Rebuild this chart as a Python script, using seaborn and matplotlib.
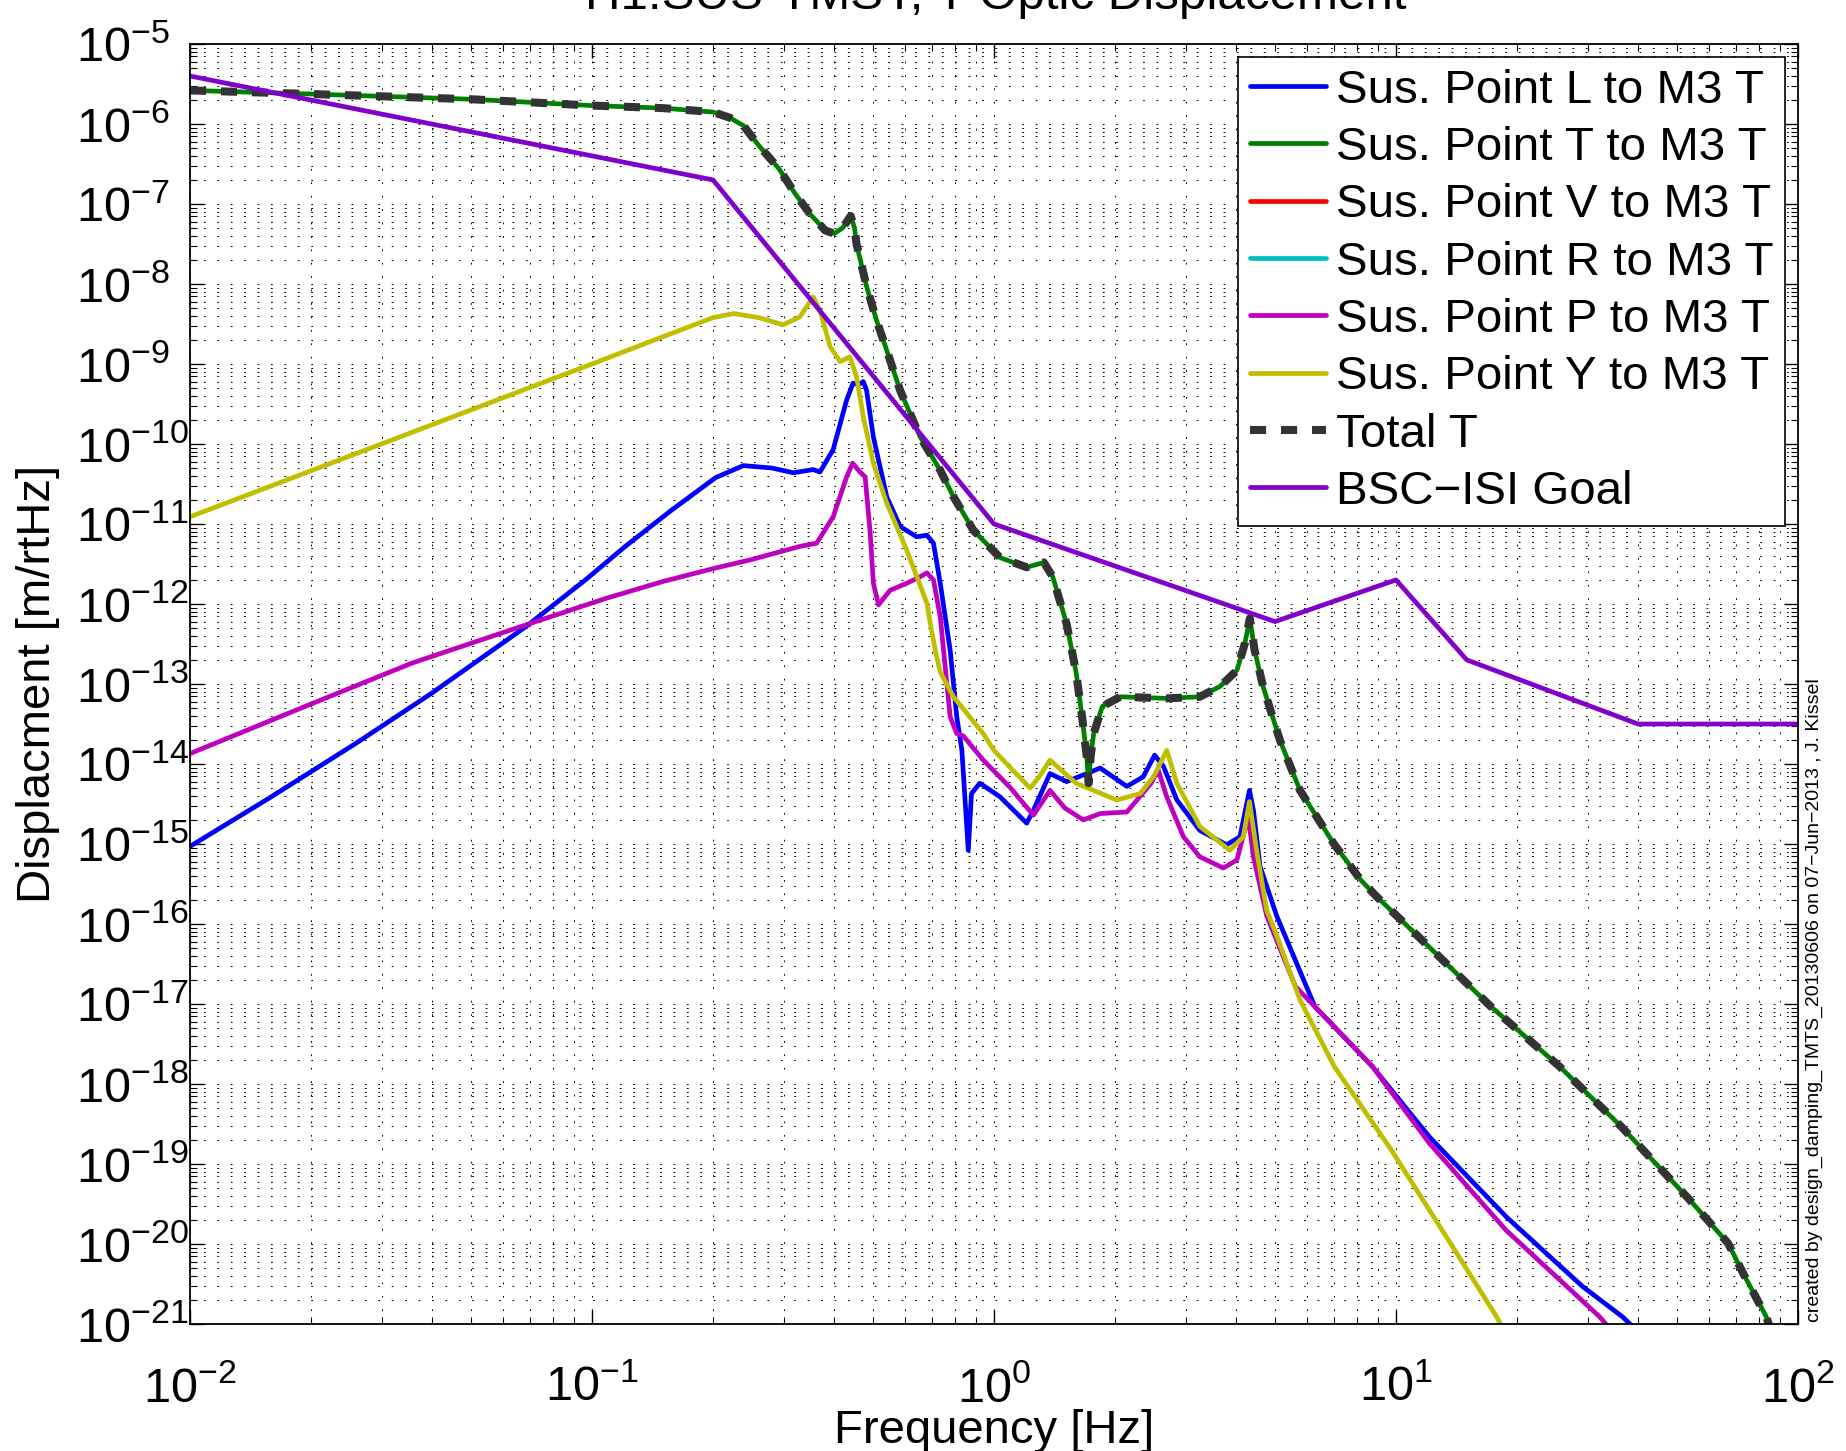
import matplotlib
matplotlib.use("Agg")
import matplotlib.pyplot as plt
import numpy as np
import seaborn as sns
from matplotlib.ticker import LogLocator, NullFormatter, LogFormatterMathtext

# ---------------- data ----------------
labels = ["Sus. Point L to M3 T", "Sus. Point T to M3 T", "Sus. Point V to M3 T",
          "Sus. Point R to M3 T", "Sus. Point P to M3 T", "Sus. Point Y to M3 T",
          "Total T", "BSC\u2212ISI Goal"]

freq_L = [0.01, 0.0157, 0.0259, 0.0398, 0.0686, 0.0963, 0.121, 0.158, 0.203, 0.238, 0.28,
          0.317, 0.355, 0.369, 0.398, 0.43, 0.446, 0.46, 0.473, 0.482, 0.501, 0.541, 0.584,
          0.642, 0.681, 0.707, 0.735, 0.778, 0.808, 0.832, 0.863, 0.879, 0.922, 1.035,
          1.206, 1.253, 1.378, 1.516, 1.701, 1.837, 2.14, 2.35, 2.51, 2.64, 2.85, 3.25,
          3.79, 4.09, 4.32, 4.42, 4.59, 5.05, 6.28, 8.73, 12.1, 18.8, 29.1, 36.6, 42.0]
disp_L = [9.33e-16, 3.72e-15, 1.82e-14, 7.59e-14, 5.25e-13, 2.0e-12, 5.25e-12, 1.50e-11,
          3.80e-11, 5.37e-11, 5.01e-11, 4.37e-11, 4.79e-11, 4.47e-11, 8.51e-11, 3.55e-10,
          5.75e-10, 5.50e-10, 6.03e-10, 4.68e-10, 1.23e-10, 2.19e-11, 9.33e-12, 6.92e-12,
          7.24e-12, 5.75e-12, 1.82e-12, 2.63e-13, 3.89e-14, 1.48e-14, 8.32e-16, 4.27e-15,
          5.75e-15, 3.89e-15, 1.82e-15, 2.63e-15, 7.59e-15, 6.03e-15, 7.59e-15, 8.91e-15,
          5.25e-15, 6.92e-15, 1.29e-14, 9.33e-15, 3.55e-15, 1.48e-15, 9.77e-16, 1.23e-15,
          4.68e-15, 2.63e-15, 5.25e-16, 1.26e-16, 9.33e-18, 1.66e-18, 2.19e-19, 2.19e-20,
          2.95e-21, 1.23e-21, 6.31e-22]

freq_T = [0.01, 0.02, 0.05, 0.1, 0.15, 0.2, 0.22, 0.238, 0.26, 0.292, 0.32, 0.348, 0.38,
          0.40, 0.42, 0.44, 0.45, 0.455, 0.482, 0.51, 0.541, 0.584, 0.655, 0.735, 0.793,
          0.889, 1.035, 1.206, 1.33, 1.40, 1.516, 1.60, 1.66, 1.70, 1.72, 1.74, 1.77, 1.86,
          2.06, 2.69, 3.25, 3.65, 4.02, 4.21, 4.33, 4.45, 4.67, 5.14, 5.77, 6.99, 8.17,
          8.96, 11.6, 17.2, 25.5, 36.3, 53.8, 67.0, 73.1, 83.4, 90.0]
disp_T = [2.63e-6, 2.37e-6, 2.04e-6, 1.70e-6, 1.58e-6, 1.41e-6, 1.20e-6, 9.55e-7, 5.37e-7,
          2.75e-7, 1.35e-7, 7.59e-8, 4.68e-8, 4.27e-8, 5.01e-8, 7.08e-8, 5.01e-8, 3.16e-8,
          9.33e-9, 3.55e-9, 1.48e-9, 4.68e-10, 1.23e-10, 4.68e-11, 2.19e-11, 8.32e-12,
          3.80e-12, 2.88e-12, 3.31e-12, 2.19e-12, 5.62e-13, 1.41e-13, 3.55e-14, 1.26e-14,
          5.75e-15, 1.26e-14, 2.40e-14, 5.25e-14, 6.92e-14, 6.61e-14, 6.92e-14, 9.33e-14,
          1.48e-13, 3.24e-13, 6.61e-13, 2.63e-13, 9.33e-14, 2.00e-14, 4.68e-15, 1.02e-15,
          3.55e-16, 2.19e-16, 6.31e-17, 9.33e-18, 1.66e-18, 2.95e-19, 3.55e-20, 1.02e-20,
          4.27e-21, 1.23e-21, 3.98e-22]

# V and R contributions do not appear inside the plotted range
freq_V, disp_V = [], []
freq_R, disp_R = [], []

freq_P = [0.01, 0.02, 0.0356, 0.0686, 0.108, 0.15, 0.203, 0.247, 0.329, 0.362, 0.398, 0.43,
          0.445, 0.464, 0.478, 0.492, 0.501, 0.516, 0.551, 0.607, 0.655, 0.681, 0.707,
          0.735, 0.778, 0.808, 0.839, 0.94, 1.1, 1.253, 1.378, 1.5, 1.667, 1.837, 2.14,
          2.46, 2.56, 2.69, 2.96, 3.25, 3.72, 4.02, 4.29, 4.42, 4.77, 5.62, 8.73, 12.1,
          18.8, 32.1, 36.0]
disp_P = [1.35e-14, 5.62e-14, 1.82e-13, 5.50e-13, 1.17e-12, 1.91e-12, 2.82e-12, 3.55e-12,
          5.25e-12, 5.75e-12, 1.23e-11, 3.89e-11, 5.75e-11, 4.47e-11, 3.89e-11, 7.76e-12,
          1.82e-12, 9.77e-13, 1.48e-12, 1.82e-12, 2.19e-12, 2.45e-12, 2.00e-12, 6.92e-13,
          3.89e-14, 2.40e-14, 2.24e-14, 1.12e-14, 5.01e-15, 2.29e-15, 4.68e-15, 2.82e-15,
          2.00e-15, 2.40e-15, 2.51e-15, 5.75e-15, 8.51e-15, 3.89e-15, 1.23e-15, 6.92e-16,
          5.01e-16, 6.31e-16, 2.19e-15, 6.92e-16, 1.26e-16, 1.66e-17, 1.66e-18, 1.82e-19,
          1.48e-20, 1.23e-21, 6.31e-22]

freq_Y = [0.01, 0.031, 0.0655, 0.1, 0.15, 0.2, 0.225, 0.26, 0.299, 0.329, 0.355, 0.369,
          0.391, 0.414, 0.438, 0.455, 0.473, 0.501, 0.541, 0.607, 0.681, 0.70, 0.72, 0.735,
          0.793, 0.94, 1.0, 1.1, 1.23, 1.30, 1.378, 1.60, 2.02, 2.31, 2.5, 2.69, 2.85, 3.25,
          3.86, 4.17, 4.32, 4.50, 4.77, 5.03, 5.77, 7.02, 9.75, 13.5, 17.8, 19.5]
disp_Y = [1.23e-11, 1.07e-10, 4.47e-10, 1.0e-9, 2.19e-9, 3.80e-9, 4.27e-9, 3.80e-9, 3.09e-9,
          3.89e-9, 6.92e-9, 4.68e-9, 1.66e-9, 1.07e-9, 1.23e-9, 6.92e-10, 2.19e-10, 5.75e-11,
          1.82e-11, 4.68e-12, 1.02e-12, 4.47e-13, 2.19e-13, 1.41e-13, 6.92e-14, 2.40e-14,
          1.48e-14, 8.91e-15, 5.01e-15, 7.08e-15, 1.12e-14, 5.75e-15, 3.55e-15, 4.27e-15,
          7.08e-15, 1.48e-14, 5.75e-15, 1.66e-15, 8.32e-16, 1.23e-15, 3.39e-15, 8.32e-16,
          1.48e-16, 7.59e-17, 1.12e-17, 1.66e-18, 1.48e-19, 1.12e-20, 1.23e-21, 5.01e-22]

freq_goal = [0.01, 0.2, 1.0, 5.0, 10.0, 15.0, 40.0, 100.0]
disp_goal = [3.98e-6, 2.0e-7, 1.0e-11, 6.03e-13, 2.0e-12, 2.0e-13, 3.16e-14, 3.16e-14]

x_ticks = [1e-2, 1e-1, 1e0, 1e1, 1e2]
y_ticks = [1e-21, 1e-20, 1e-19, 1e-18, 1e-17, 1e-16, 1e-15, 1e-14, 1e-13, 1e-12, 1e-11,
           1e-10, 1e-9, 1e-8, 1e-7, 1e-6, 1e-5]

title = "H1:SUS-TMSY, T Optic Displacement"
xlabel = "Frequency [Hz]"
ylabel = "Displacment [m/rtHz]"
credit = "created by design_damping_TMTS_20130606 on 07\u2212Jun\u22122013 , J. Kissel"

# ---------------- style ----------------
sns.set_style("ticks")
plt.rcParams.update({
    "font.family": ["Liberation Sans", "DejaVu Sans"],
    "mathtext.fontset": "custom",
    "mathtext.rm": "Liberation Sans",
    "mathtext.it": "Liberation Sans:italic",
    "mathtext.bf": "Liberation Sans:bold",
    "axes.unicode_minus": True,
    "text.color": "black",
    "axes.labelcolor": "black",
    "xtick.color": "black",
    "ytick.color": "black",
})

fig = plt.figure(figsize=(18.46, 14.51), dpi=100)
fig.patch.set_facecolor("white")
ax = fig.add_axes([190 / 1846, 1 - 1324 / 1451, 1608 / 1846, 1280 / 1451])
ax.set_facecolor("white")

LW = 3.4
series = [
    (freq_L, disp_L, (0.0, 0.0, 1.0)),
    (freq_T, disp_T, (0.0, 0.5, 0.0)),
    (freq_V, disp_V, (1.0, 0.0, 0.0)),
    (freq_R, disp_R, (0.0, 0.75, 0.75)),
    (freq_P, disp_P, (0.75, 0.0, 0.75)),
    (freq_Y, disp_Y, (0.75, 0.75, 0.0)),
]
handles = []
for f, d, c in series:
    if len(f):
        sns.lineplot(x=f, y=d, ax=ax, color=c, linewidth=LW, estimator=None,
                     sort=False, legend=False)
        h = ax.lines[-1]
    else:
        h, = ax.plot([], [], color=c, linewidth=LW)
    handles.append(h)

# Total T (dominated by the T path)
sns.lineplot(x=freq_T, y=disp_T, ax=ax, color="#333333", linewidth=5.8, estimator=None,
             sort=False, legend=False)
tot = ax.lines[-1]
tot.set_dashes((2.0, 1.85))
tot.set_dash_capstyle("butt")
handles.append(tot)

sns.lineplot(x=freq_goal, y=disp_goal, ax=ax, color=(0.5, 0.0, 0.8), linewidth=LW,
             estimator=None, sort=False, legend=False)
handles.append(ax.lines[-1])

ax.set_xscale("log")
ax.set_yscale("log")
ax.set_xlim(1e-2, 1e2)
ax.set_ylim(1e-21, 1e-5)

ax.set_xticks(x_ticks)
ax.set_yticks(y_ticks)
ax.xaxis.set_minor_locator(LogLocator(base=10, subs=np.arange(2, 10), numticks=20))
ax.yaxis.set_minor_locator(LogLocator(base=10, subs=np.arange(2, 10), numticks=40))
ax.xaxis.set_major_formatter(LogFormatterMathtext())
ax.yaxis.set_major_formatter(LogFormatterMathtext())
ax.xaxis.set_minor_formatter(NullFormatter())
ax.yaxis.set_minor_formatter(NullFormatter())

ax.tick_params(which="both", direction="in", top=True, right=True)
ax.tick_params(which="major", length=10, width=1.0, labelsize=35)
ax.tick_params(which="minor", length=5, width=0.8)
ax.tick_params(axis="x", which="major", pad=30)
# MATLAB style: the "10" bases line up, exponents hang to the right
ax.tick_params(axis="y", which="major", pad=(190 - 76) * 0.72)
for lbl in ax.get_yticklabels():
    lbl.set_horizontalalignment("left")

ax.grid(True, which="both", color="black", linestyle=(0, (1.8, 12)), linewidth=0.7)
ax.set_axisbelow(True)
for s in ax.spines.values():
    s.set_visible(True)
    s.set_linewidth(1.3)
    s.set_color("black")

leg = ax.legend(handles, labels, loc="upper right", fontsize=34.2, frameon=True,
                fancybox=False, framealpha=1, edgecolor="black", borderaxespad=0.27,
                borderpad=0.25, labelspacing=0.28, handlelength=1.6, handletextpad=0.2)
leg.get_frame().set_linewidth(1.2)

ax.set_xlabel(xlabel, fontsize=34, va="baseline")
ax.xaxis.set_label_coords(0.5, (1324 - 1443) / 1280)
ax.set_ylabel(ylabel, fontsize=34, va="baseline")
ax.yaxis.set_label_coords((50 - 190) / 1608, 0.5)

fig.text(996 / 1846, 1 - 9 / 1451, title, ha="center", va="baseline", fontsize=35.5)
fig.text(1814 / 1846, 1 - 1322 / 1451, credit, rotation=90, ha="center", va="bottom",
         fontsize=14.0)

fig.savefig("out.png", dpi=100, facecolor="white")
